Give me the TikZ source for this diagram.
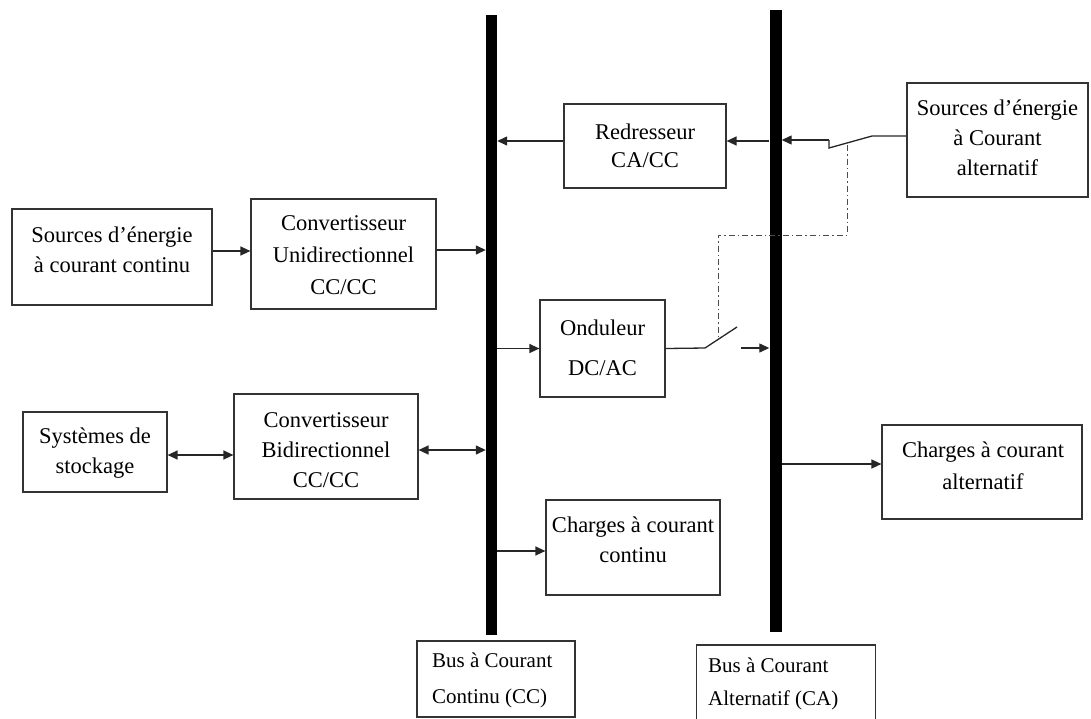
\documentclass[tikz,border=0pt]{standalone}
\usepackage{fontspec}
\setmainfont{Liberation Serif}
\usetikzlibrary{arrows.meta}
\begin{document}
\begin{tikzpicture}[x=1pt,y=-1pt,
  box/.style={draw=black!80,line width=1.2pt,rectangle,inner sep=0pt},
  txt/.style={align=center,inner sep=0pt,font=\fontsize{22.5}{30}\selectfont},
  lbltxt/.style={align=left,inner sep=0pt,anchor=west,font=\fontsize{21}{36}\selectfont},
  bus/.style={fill=black,draw=none,rectangle,inner sep=0pt},
  wire/.style={line width=1.3pt,draw=black!85},
  arr/.style={wire,-{Triangle[length=10pt,width=9pt]}},
  darr/.style={wire,{Triangle[length=10pt,width=9pt]}-{Triangle[length=10pt,width=9pt]}},
  ctrl/.style={line width=1pt,draw=black!70,dash pattern=on 6pt off 3pt on 1.5pt off 3pt}]
\useasboundingbox (0,0) rectangle (1091,718);
\fill[white] (0,0) rectangle (1091,718);
% buses
\node[bus,minimum width=11pt,minimum height=620pt] (busCC) at (491.5,325) {};
\node[bus,minimum width=12pt,minimum height=622pt] (busCA) at (775.5,321) {};
% boxes
\node[box,minimum width=200pt,minimum height=96pt] (srcDC) at (112,257) {};
\node[txt] (tsrcDC) at (112,250) {Sources d’énergie\\à courant continu};
\node[box,minimum width=185pt,minimum height=110pt] (convU) at (343.5,254) {};
\node[txt,font=\fontsize{22.5}{32}\selectfont] (tconvU) at (343.5,255) {Convertisseur\\Unidirectionnel\\CC/CC};
\node[box,minimum width=144pt,minimum height=80pt] (stor) at (95,452) {};
\node[txt] (tstor) at (95,453) {Systèmes de\\stockage};
\node[box,minimum width=184pt,minimum height=105pt] (convB) at (326,446.5) {};
\node[txt] (tconvB) at (326,450) {Convertisseur\\Bidirectionnel\\CC/CC};
\node[box,minimum width=162pt,minimum height=84pt] (redr) at (645,146) {};
\node[txt,font=\fontsize{22.5}{28}\selectfont] (tredr) at (645,146) {Redresseur\\CA/CC};
\node[box,minimum width=181pt,minimum height=114pt] (srcAC) at (997.5,140) {};
\node[txt] (tsrcAC) at (997.5,138) {Sources d’énergie\\à Courant\\alternatif};
\node[box,minimum width=125pt,minimum height=97pt] (ond) at (602.5,348.5) {};
\node[txt,font=\fontsize{22.5}{40}\selectfont] (tond) at (602.5,348) {Onduleur\\DC/AC};
\node[box,minimum width=174pt,minimum height=95pt] (chCC) at (633,547.5) {};
\node[txt] (tchCC) at (633,540) {Charges à courant\\continu};
\node[box,minimum width=200pt,minimum height=94pt] (chAC) at (982,472) {};
\node[txt,font=\fontsize{22.5}{32}\selectfont] (tchAC) at (983,466) {Charges à courant\\alternatif};
\node[box,minimum width=158pt,minimum height=76pt] (lblCC) at (496,679) {};
\node[lbltxt] (tlblCC) at (432,680) {Bus à Courant\\Continu (CC)};
\node[box,minimum width=179pt,minimum height=76pt] (lblCA) at (786,683) {};
\node[lbltxt,font=\fontsize{21}{33}\selectfont] (tlblCA) at (708,683.5) {Bus à Courant\\Alternatif (CA)};
% connectors left side
\draw[arr] ([yshift=6pt]srcDC.east) -- ([yshift=6pt]srcDC.east -| convU.west);
\draw[arr] ([yshift=4pt]convU.east) -- ([yshift=4pt]convU.east -| busCC.west);
\draw[darr] ([yshift=-3pt]stor.east) -- ([yshift=-3pt]stor.east -| convB.west);
\draw[darr] ([yshift=-3.5pt]convB.east) -- ([yshift=-3.5pt]convB.east -| busCC.west);
\draw[arr] ([yshift=5pt]redr.east -| busCA.west) -- ([yshift=5pt]redr.east);
\draw[arr] ([yshift=5pt]redr.west) -- ([yshift=5pt]redr.west -| busCC.east);
\draw[arr] (ond.west -| busCC.east) -- (ond.west);
\draw[arr] ([yshift=-3.5pt]chCC.west -| busCC.east) -- ([yshift=-3.5pt]chCC.west);
\draw[arr] ([yshift=8pt]chAC.west -| busCA.east) -- ([yshift=8pt]chAC.west);
% AC source switch
\coordinate (s1) at (872,136);
\coordinate (s2) at (829,148);
\coordinate (s3) at (829,140);
\coordinate (s4) at (847,145);
\draw[wire] ([yshift=4pt]srcAC.west) -- (s1) -- (s2) -- (s3);
\draw[arr] (s3) -- (s3 -| busCA.east);
% inverter switch
\coordinate (o1) at (705,348);
\coordinate (o2) at (737,327);
\coordinate (o3) at (741,348);
\coordinate (o4) at (718,338);
\draw[wire] (ond.east) -- (o1) -- (o2);
\draw[arr] (o3) -- (o3 -| busCA.west);
% control link
\draw[ctrl] (s4) -- (847,235) -- (718,235) -- (o4);
\end{tikzpicture}
\end{document}
